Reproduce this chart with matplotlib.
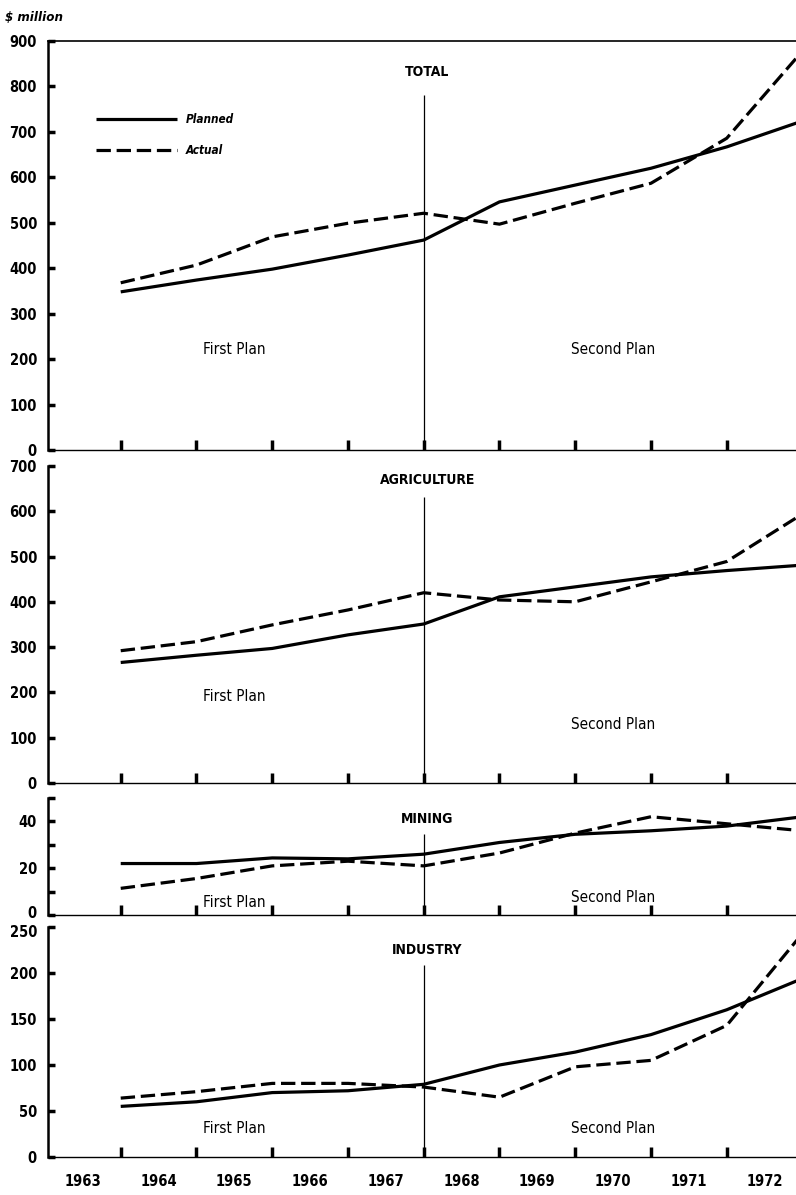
import numpy as np
import matplotlib
matplotlib.use("Agg")
import matplotlib.pyplot as plt
import matplotlib.transforms as mtransforms

plt.rcParams['font.family'] = ['DejaVu Sans']
plt.rcParams['font.stretch'] = 'condensed'

# fiscal years (points sit on the boundary between two year labels)
years = [1963, 1964, 1965, 1966, 1967, 1968, 1969, 1970, 1971, 1972]
periods = ['1963/64', '1964/65', '1965/66', '1966/67', '1967/68',
           '1968/69', '1969/70', '1970/71', '1971/72', '1972/73']

# $ million
total_planned = [348, 374, 398, 429, 462, 546, 583, 620, 667, 724]
total_actual = [368, 407, 469, 499, 521, 497, 543, 587, 686, 878]
agri_planned = [266, 282, 297, 327, 351, 411, 433, 455, 469, 481]
agri_actual = [292, 312, 349, 382, 420, 404, 400, 444, 489, 594]
mining_planned = [22, 22, 24.4, 24, 26, 31, 34.5, 36, 38, 42]
mining_actual = [11.4, 15.6, 21, 23, 21, 26.5, 35, 42, 39, 36]
industry_planned = [55, 60, 70, 72, 79, 100, 114, 133, 160, 194]
industry_actual = [64, 71, 80, 80, 76, 65, 98, 105, 143, 243]

x = np.arange(len(periods)) + 0.5
split = 4.5  # between First and Second Plan

fig = plt.figure(figsize=(7.96, 11.95), dpi=100)

panels = [
    # name, planned, actual, ylim, ticks, rect, title_y, first_y, line_top, second_y
    ("TOTAL", total_planned, total_actual, 900, np.arange(0, 901, 100),
     [0.0603, 0.6234, 0.945, 0.3423], 832, 222, 781, 222),
    ("AGRICULTURE", agri_planned, agri_actual, 700, np.arange(0, 701, 100),
     [0.0603, 0.3448, 0.945, 0.2653], 669, 190, 631, 130),
    ("MINING", mining_planned, mining_actual, 50, [0, 20, 40],
     [0.0603, 0.2343, 0.945, 0.0979], 41, 5.5, 34.5, 7.6),
    ("INDUSTRY", industry_planned, industry_actual, 250, np.arange(0, 251, 50),
     [0.0603, 0.0318, 0.945, 0.1925], 225, 31.5, 209, 31.5),
]

for name, planned, actual, ytop, yticks, rect, ty, fy, ltop, sy in panels:
    ax = fig.add_axes(rect)
    ax.plot(x, planned, color='black', lw=2.3, solid_capstyle='butt', label='Planned')
    ax.plot(x, actual, color='black', lw=2.3, linestyle=(0, (4.5, 1.8)),
            dash_capstyle='butt', label='Actual')
    ax.vlines(split, 0, ltop, color='black', lw=0.9)
    ax.set_xlim(-0.46, 9.47)
    ax.set_ylim(0, ytop)
    ax.set_yticks(yticks)
    if name == "MINING":
        ax.set_yticks([10, 30, 50], minor=True)
        ax.tick_params(axis='y', which='minor', direction='in', length=5, width=2.5)
    ax.set_xticks(x[:-1])
    ax.set_xticklabels([])
    ax.tick_params(axis='y', direction='in', length=5, width=2.5, pad=8,
                   labelsize=10.5)
    ax.tick_params(axis='x', direction='in', length=7, width=2.5)
    labels = ax.get_yticklabels()
    for lab in labels:
        lab.set_fontweight('bold')
    # keep the touching 0 / top labels of neighbouring panels apart
    if name == "MINING":
        labels[0].set_transform(labels[0].get_transform() +
                                mtransforms.ScaledTranslation(0, 2 / 72, fig.dpi_scale_trans))
    if name == "INDUSTRY":
        labels[-1].set_transform(labels[-1].get_transform() +
                                 mtransforms.ScaledTranslation(0, -3 / 72, fig.dpi_scale_trans))
    ax.spines['right'].set_visible(False)
    ax.spines['top'].set_visible(name == "TOTAL")
    ax.spines['top'].set_linewidth(1.2)
    ax.spines['left'].set_linewidth(1.8)
    ax.spines['bottom'].set_linewidth(1.0)

    ax.text(4.55, ty, name, ha='center', va='center', fontsize=10,
            fontweight='bold')
    ax.text(2.0, fy, "First Plan", ha='center', va='center', fontsize=11)
    ax.text(7.0, sy, "Second Plan", ha='center', va='center', fontsize=11)

    if name == "TOTAL":
        ax.legend(loc='upper left', bbox_to_anchor=(0.05, 0.85), frameon=False,
                  handlelength=6.8, handletextpad=0.8, labelspacing=1.5,
                  prop={'style': 'italic', 'weight': 'bold', 'size': 8.5})
    if name == "INDUSTRY":
        ax.set_xticks(np.arange(len(years)), minor=True)
        ax.set_xticklabels([str(y) for y in years], minor=True)
        ax.tick_params(axis='x', which='minor', length=0, pad=12, labelsize=10.5)
        for lab in ax.get_xticklabels(minor=True):
            lab.set_fontweight('bold')

fig.text(0.006, 0.985, "$ million", ha='left', va='center', fontsize=9.5,
         style='italic', fontweight='bold')

fig.savefig("out.png", dpi=100)
